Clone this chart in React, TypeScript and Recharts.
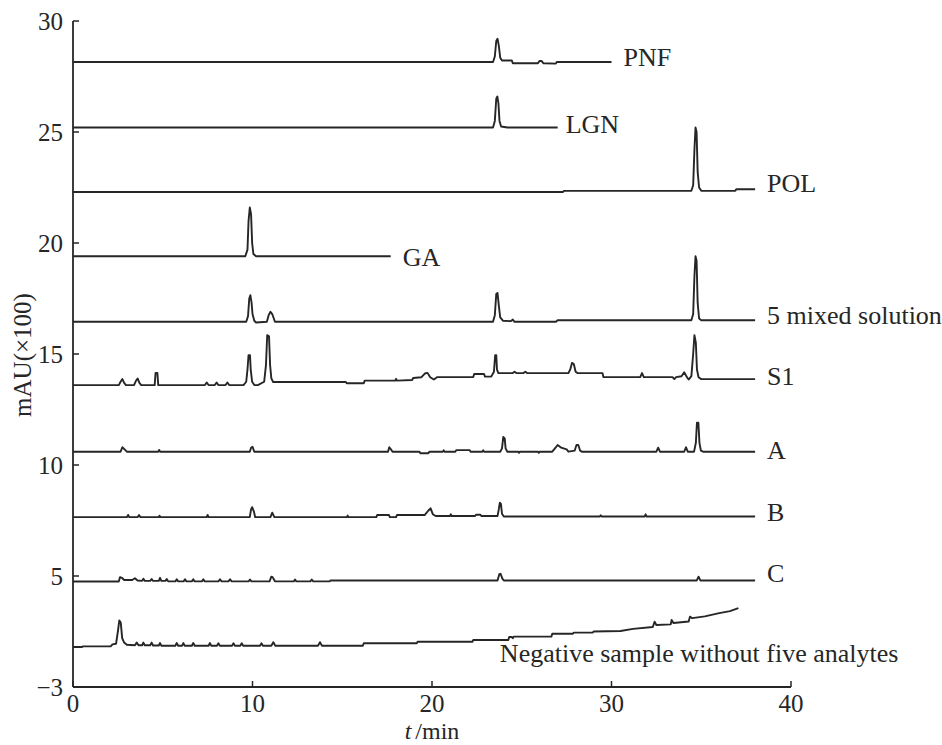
import React from 'react';
import { LineChart, Line, XAxis, YAxis, ReferenceDot } from 'recharts';

type Pt = [number, number];

// retention time (min), signal (mAU x100, offset per trace)
const pnf: Pt[] = [
  [0, 28.15], [23.4, 28.15], [23.5, 28.4], [23.58, 29.1], [23.65, 29.2], [23.72, 28.9], [23.8, 28.35],
  [23.9, 28.22], [24.45, 28.22], [24.5, 28.1], [25.9, 28.1], [26.0, 28.2], [26.1, 28.2], [26.2, 28.1],
  [26.9, 28.08], [26.95, 28.15], [30, 28.15],
];
const lgn: Pt[] = [
  [0, 25.2], [23.4, 25.2], [23.5, 25.5], [23.58, 26.5], [23.64, 26.6], [23.7, 26.3], [23.76, 25.5],
  [23.85, 25.25], [24.2, 25.2], [27, 25.2],
];
const pol: Pt[] = [
  [0, 22.3], [27.3, 22.3], [27.35, 22.35], [34.45, 22.35], [34.55, 22.6], [34.62, 24.2], [34.68, 25.2],
  [34.74, 25.0], [34.8, 23.2], [34.88, 22.5], [35.0, 22.35], [36.9, 22.35], [36.95, 22.42], [38, 22.42],
];
const ga: Pt[] = [
  [0, 19.4], [9.6, 19.4], [9.72, 19.7], [9.78, 21.0], [9.85, 21.6], [9.92, 21.3], [9.98, 20.0],
  [10.05, 19.5], [10.2, 19.4], [17.7, 19.4],
];
const mixed: Pt[] = [
  [0, 16.45], [9.65, 16.45], [9.75, 16.7], [9.82, 17.5], [9.88, 17.65], [9.95, 17.3], [10.0, 16.8],
  [10.1, 16.5], [10.2, 16.42], [10.8, 16.45], [10.9, 16.75], [11.0, 16.9], [11.1, 16.8], [11.25, 16.45],
  [23.4, 16.45], [23.5, 16.75], [23.58, 17.7], [23.65, 17.75], [23.72, 17.2], [23.8, 16.65], [23.95, 16.5],
  [24.4, 16.48], [24.5, 16.55], [24.6, 16.45], [26.9, 16.45], [27.0, 16.52], [34.45, 16.52], [34.55, 16.8],
  [34.62, 18.5], [34.68, 19.4], [34.74, 19.2], [34.8, 17.3], [34.88, 16.6], [35.0, 16.52], [38, 16.52],
];
const s1: Pt[] = [
  [0, 13.6], [2.55, 13.6], [2.65, 13.75], [2.75, 13.87], [2.85, 13.7], [2.95, 13.6], [3.4, 13.6],
  [3.5, 13.78], [3.6, 13.9], [3.7, 13.7], [3.8, 13.6], [4.55, 13.6], [4.6, 14.15], [4.7, 14.15],
  [4.75, 13.6], [7.35, 13.6], [7.45, 13.72], [7.55, 13.6], [7.9, 13.6], [8.0, 13.72], [8.1, 13.6],
  [8.5, 13.6], [8.6, 13.72], [8.7, 13.6], [9.5, 13.6], [9.65, 13.75], [9.72, 14.3], [9.78, 14.95],
  [9.86, 14.95], [9.9, 14.3], [9.98, 13.75], [10.1, 13.6], [10.3, 13.6], [10.65, 13.75], [10.75, 14.5],
  [10.82, 15.85], [10.92, 15.8], [10.98, 14.5], [11.05, 13.9], [11.15, 13.74], [15.2, 13.74],
  [15.25, 13.68], [16.2, 13.68], [16.25, 13.8], [17.95, 13.8], [18.0, 13.88], [18.05, 13.8],
  [18.9, 13.83], [18.95, 13.92], [19.4, 13.95], [19.6, 14.12], [19.75, 14.15], [19.9, 13.95],
  [20.1, 13.85], [20.3, 13.96], [22.3, 13.96], [22.35, 14.1], [22.9, 14.1], [22.95, 13.98], [23.3, 13.98],
  [23.45, 14.2], [23.52, 14.95], [23.58, 14.95], [23.62, 14.3], [23.7, 14.14], [24.5, 14.14],
  [24.6, 14.2], [24.7, 14.14], [25.1, 14.14], [25.2, 14.2], [25.3, 14.14], [27.6, 14.14], [27.7, 14.3],
  [27.8, 14.6], [27.9, 14.55], [28.0, 14.2], [28.1, 14.14], [29.5, 14.14], [29.55, 13.96], [31.6, 13.96],
  [31.7, 14.14], [31.8, 13.96], [33.4, 13.96], [33.5, 13.87], [33.6, 13.96], [33.9, 14.0], [34.05, 14.18],
  [34.2, 13.96], [34.3, 13.85], [34.45, 14.0], [34.55, 15.0], [34.62, 15.85], [34.7, 15.5], [34.76, 14.3],
  [34.85, 13.95], [35.0, 13.87], [38, 13.87],
];
const sampleA: Pt[] = [
  [0, 10.6], [2.65, 10.6], [2.75, 10.8], [2.9, 10.68], [3.0, 10.6], [4.75, 10.6], [4.8, 10.68],
  [4.85, 10.6], [9.85, 10.6], [9.92, 10.78], [10.0, 10.82], [10.1, 10.6], [17.55, 10.6], [17.62, 10.8],
  [17.7, 10.72], [17.8, 10.6], [19.3, 10.6], [19.35, 10.53], [19.8, 10.53], [19.85, 10.6], [20.6, 10.6],
  [20.65, 10.66], [20.7, 10.6], [21.3, 10.6], [21.35, 10.67], [22.1, 10.67], [22.15, 10.6], [22.8, 10.6],
  [22.85, 10.66], [22.9, 10.6], [23.8, 10.6], [23.9, 10.75], [23.97, 11.26], [24.05, 11.2], [24.1, 10.75],
  [24.2, 10.6], [24.8, 10.6], [24.85, 10.55], [24.9, 10.6], [25.9, 10.6], [25.95, 10.55], [26.0, 10.6],
  [26.7, 10.6], [26.85, 10.75], [27.0, 10.9], [27.2, 10.78], [27.5, 10.7], [27.6, 10.6], [27.95, 10.65],
  [28.05, 10.9], [28.15, 10.9], [28.25, 10.65], [28.35, 10.6], [32.5, 10.6], [32.6, 10.78], [32.7, 10.6],
  [34.05, 10.6], [34.15, 10.8], [34.25, 10.6], [34.6, 10.6], [34.7, 11.0], [34.76, 11.9], [34.84, 11.9],
  [34.9, 11.0], [34.98, 10.65], [35.1, 10.6], [38, 10.6],
];
const sampleB: Pt[] = [
  [0, 7.65], [3.0, 7.65], [3.07, 7.75], [3.14, 7.65], [3.6, 7.65], [3.68, 7.75], [3.76, 7.65],
  [4.78, 7.65], [4.82, 7.72], [4.86, 7.65], [7.45, 7.65], [7.5, 7.75], [7.55, 7.65], [9.85, 7.65],
  [9.92, 8.0], [9.98, 8.1], [10.08, 7.9], [10.15, 7.65], [11.0, 7.65], [11.1, 7.85], [11.22, 7.65],
  [15.25, 7.65], [15.3, 7.72], [15.35, 7.65], [16.9, 7.65], [16.95, 7.75], [17.6, 7.75], [17.65, 7.65],
  [18.0, 7.65], [18.05, 7.75], [19.6, 7.75], [19.8, 7.95], [19.92, 8.05], [20.05, 7.78], [20.2, 7.7],
  [21.0, 7.7], [21.05, 7.78], [21.1, 7.7], [22.4, 7.7], [22.45, 7.76], [22.7, 7.76], [22.75, 7.7],
  [23.65, 7.7], [23.72, 8.0], [23.78, 8.3], [23.84, 8.25], [23.9, 7.8], [24.0, 7.68], [29.35, 7.68],
  [29.4, 7.74], [29.45, 7.68], [31.85, 7.68], [31.9, 7.78], [31.95, 7.68], [38, 7.68],
];
const sampleC: Pt[] = [
  [0, 4.75], [2.55, 4.75], [2.62, 4.95], [2.75, 4.9], [2.85, 4.82], [3.3, 4.82], [3.45, 4.9], [3.6, 4.8],
  [3.85, 4.78], [3.92, 4.88], [4.0, 4.78], [4.3, 4.78], [4.38, 4.86], [4.46, 4.78], [4.78, 4.78],
  [4.85, 4.92], [4.92, 4.78], [5.15, 4.78], [5.22, 4.86], [5.3, 4.76], [5.7, 4.76], [5.78, 4.85],
  [5.86, 4.76], [6.16, 4.76], [6.24, 4.85], [6.32, 4.76], [6.62, 4.76], [6.7, 4.85], [6.78, 4.76],
  [7.18, 4.76], [7.26, 4.85], [7.34, 4.76], [8.1, 4.76], [8.19, 4.85], [8.28, 4.76], [8.66, 4.76],
  [8.75, 4.85], [8.84, 4.76], [9.78, 4.76], [9.86, 4.84], [9.94, 4.76], [10.95, 4.76], [11.05, 4.97],
  [11.12, 4.95], [11.25, 4.76], [12.3, 4.76], [12.37, 4.84], [12.44, 4.76], [13.22, 4.76], [13.3, 4.84],
  [13.38, 4.76], [14.3, 4.76], [14.35, 4.8], [23.65, 4.8], [23.75, 5.08], [23.82, 5.1], [23.92, 4.88],
  [24.0, 4.8], [34.75, 4.8], [34.85, 4.97], [34.95, 4.8], [38, 4.8],
];
const negative: Pt[] = [
  [0, 1.8], [0.5, 1.8], [0.55, 1.83], [2.1, 1.83], [2.2, 1.92], [2.4, 1.95], [2.5, 2.5], [2.58, 3.0],
  [2.66, 2.9], [2.74, 2.2], [2.85, 2.0], [3.0, 1.9], [3.45, 1.88], [3.55, 2.0], [3.65, 1.88], [3.85, 1.88],
  [3.92, 2.0], [4.0, 1.88], [4.3, 1.88], [4.38, 2.0], [4.46, 1.87], [4.78, 1.87], [4.85, 1.98],
  [4.92, 1.86], [5.7, 1.86], [5.78, 1.98], [5.86, 1.86], [6.08, 1.86], [6.15, 1.98], [6.22, 1.86],
  [6.62, 1.86], [6.7, 1.98], [6.78, 1.86], [7.55, 1.86], [7.63, 1.98], [7.7, 1.86], [8.02, 1.86],
  [8.1, 1.97], [8.18, 1.86], [8.86, 1.86], [8.94, 1.97], [9.02, 1.86], [9.32, 1.86], [9.4, 1.97],
  [9.48, 1.86], [10.42, 1.86], [10.5, 1.97], [10.58, 1.86], [11.05, 1.86], [11.16, 2.02], [11.27, 1.86],
  [13.65, 1.86], [13.76, 2.02], [13.87, 1.86], [16.15, 1.86], [16.2, 1.97], [19.15, 1.97], [19.2, 2.04],
  [22.25, 2.04], [22.3, 2.12], [24.25, 2.12], [24.3, 2.25], [24.45, 2.25], [24.5, 2.2], [24.55, 2.27],
  [26.65, 2.27], [26.7, 2.4], [27.85, 2.4], [27.9, 2.45], [28.95, 2.45], [29.0, 2.5], [30.5, 2.52],
  [31.2, 2.62], [32.3, 2.7], [32.4, 2.94], [32.5, 2.79], [33.3, 2.82], [33.35, 3.02], [33.45, 2.88],
  [34.3, 2.95], [34.37, 3.17], [34.5, 3.1], [35.2, 3.18], [36.0, 3.33], [36.6, 3.42], [37.07, 3.55],
];

const traces = [pnf, lgn, pol, ga, mixed, s1, sampleA, sampleB, sampleC, negative];
const traceNames = [
  'PNF', 'LGN', 'POL', 'GA', '5 mixed solution', 'S1', 'A', 'B', 'C',
  'Negative sample without five analytes',
];
const xTicks = [0, 10, 20, 30, 40];
const yTicks = [0, 5, 10, 15, 20, 25, 30];
const yTickLabels = ['\u22123', '5', '10', '15', '20', '25', '30'];

// where each name sits relative to the end of its trace (px)
const labelPos = [
  { dx: 12, dy: 4, anchor: 'start' },
  { dx: 8, dy: 5, anchor: 'start' },
  { dx: 12, dy: 3, anchor: 'start' },
  { dx: 12, dy: 10, anchor: 'start' },
  { dx: 12, dy: 4, anchor: 'start' },
  { dx: 12, dy: 6, anchor: 'start' },
  { dx: 12, dy: 7, anchor: 'start' },
  { dx: 12, dy: 4, anchor: 'start' },
  { dx: 12, dy: 2, anchor: 'start' },
  { dx: 160, dy: 54, anchor: 'end' },
];

const FONT = '"Liberation Serif", "Times New Roman", serif';
const INK = '#262626';

const YTick = (props: any) => {
  const { x, y, payload } = props;
  const i = yTicks.indexOf(payload.value);
  return (
    <g>
      <line x1={x} y1={y} x2={x + 6} y2={y} stroke={INK} strokeWidth={1.5} />
      <text x={x - 10} y={y + 8.5} textAnchor="end" fontSize={25} fontFamily={FONT} fill={INK}>
        {yTickLabels[i]}
      </text>
    </g>
  );
};

const XTick = (props: any) => {
  const { x, y, payload } = props;
  return (
    <g>
      <line x1={x} y1={y} x2={x} y2={y - 6} stroke={INK} strokeWidth={1.5} />
      <text x={x} y={y + 25} textAnchor="middle" fontSize={25} fontFamily={FONT} fill={INK}>
        {payload.value}
      </text>
    </g>
  );
};

export default function App() {
  return (
    <div style={{ position: 'absolute', left: 0, top: 0, width: 942, height: 745, background: '#fff' }}>
      <LineChart width={942} height={745} margin={{ top: 21, right: 151, left: 13, bottom: 18 }}>
        <XAxis
          type="number"
          dataKey="t"
          domain={[0, 40]}
          ticks={xTicks}
          tickSize={0}
          tickMargin={0}
          tickLine={false}
          tick={<XTick />}
          height={40}
          axisLine={{ stroke: INK, strokeWidth: 1.8 }}
          allowDataOverflow
          label={{
            content: () => (
              <text x={432} y={739} textAnchor="middle" fontSize={24} fontFamily={FONT} fill={INK}>
                <tspan fontStyle="italic">t</tspan>
                <tspan dx={4}>/min</tspan>
              </text>
            ),
          }}
        />
        <YAxis
          type="number"
          domain={[0, 30]}
          ticks={yTicks}
          tickSize={0}
          tickMargin={0}
          tickLine={false}
          tick={<YTick />}
          width={60}
          axisLine={{ stroke: INK, strokeWidth: 1.8 }}
          allowDataOverflow
          label={{
            content: () => (
              <text
                x={0}
                y={0}
                transform="translate(31 355) rotate(-90)"
                textAnchor="middle"
                fontSize={25}
                fontFamily={FONT}
                fill={INK}
              >
                mAU(×100)
              </text>
            ),
          }}
        />
        {traces.map((tr, i) => (
          <Line
            key={traceNames[i]}
            data={tr.map(([t, v]) => ({ t, v }))}
            dataKey="v"
            type="linear"
            stroke={INK}
            strokeWidth={1.9}
            dot={false}
            activeDot={false}
            isAnimationActive={false}
            strokeLinejoin="round"
          />
        ))}
        {traces.map((tr, i) => {
          const [t, v] = tr[tr.length - 1];
          const lp = labelPos[i];
          return (
            <ReferenceDot
              key={'lbl-' + traceNames[i]}
              x={t}
              y={v}
              r={0}
              fill="none"
              stroke="none"
              label={{
                content: (p: any) => {
                  const vb = p.viewBox || {};
                  return (
                    <text
                      x={vb.x + lp.dx}
                      y={vb.y + lp.dy}
                      textAnchor={lp.anchor}
                      fontSize={26}
                      fontFamily={FONT}
                      fill={INK}
                    >
                      {traceNames[i]}
                    </text>
                  );
                },
              }}
            />
          );
        })}
      </LineChart>
    </div>
  );
}
